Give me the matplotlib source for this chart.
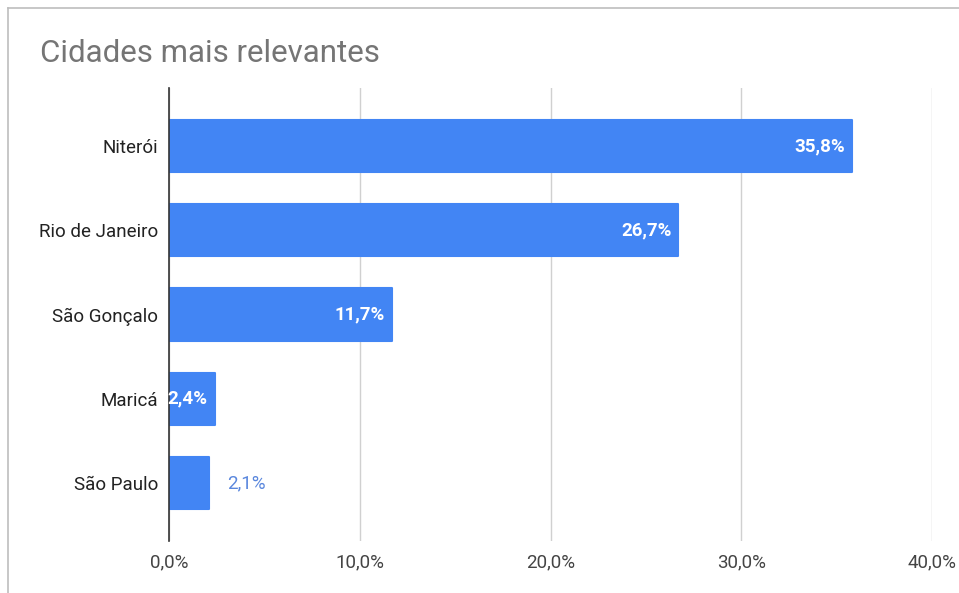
import matplotlib
matplotlib.use("Agg")
import matplotlib.pyplot as plt
from matplotlib.lines import Line2D

plt.rcParams['font.family'] = ['Roboto', 'DejaVu Sans']

cities = ["Niterói", "Rio de Janeiro", "São Gonçalo", "Maricá", "São Paulo"]
shares = [35.8, 26.7, 11.7, 2.4, 2.1]
tick_values = [0, 10, 20, 30, 40]
tick_labels = ["0,0%", "10,0%", "20,0%", "30,0%", "40,0%"]

BLUE = "#4285F4"
FS = 13.5

fig = plt.figure(figsize=(9.59, 5.93), dpi=100)
ax = fig.add_axes([169 / 959, 1 - 541 / 593, (932 - 169) / 959, (541 - 88) / 593])

ypos = list(range(len(cities)))
ax.barh(ypos, shares, height=0.62, color=BLUE, edgecolor=BLUE,
        linewidth=1.5, joinstyle="round", zorder=3)

ax.set_xlim(0, 40)
ax.set_ylim(len(cities) - 0.31, -0.69)
ax.set_xticks(tick_values)
ax.set_xticklabels(tick_labels)
ax.set_yticks(ypos)
ax.set_yticklabels(cities)

ax.tick_params(axis="x", length=0, pad=9, labelsize=FS, labelcolor="#444444")
ax.tick_params(axis="y", length=0, pad=8, labelsize=FS, labelcolor="#222222")
ax.grid(axis="x", color="#d0d0d0", linewidth=1, zorder=0)
for s in ["top", "right", "bottom"]:
    ax.spines[s].set_visible(False)
ax.spines["left"].set_color("#333333")
ax.spines["left"].set_linewidth(1.2)
ax.spines["left"].set_zorder(4)

for y, v in zip(ypos, shares):
    label = f"{v:.1f}%".replace(".", ",")
    if v > 2.2:
        ax.annotate(label, (v, y), xytext=(-5, 0), textcoords="offset points",
                    ha="right", va="center", color="white", fontsize=FS,
                    fontweight="bold", zorder=5)
    else:
        ax.annotate(label, (v, y), xytext=(13, 0), textcoords="offset points",
                    ha="left", va="center", color="#5a87dd", fontsize=FS,
                    zorder=5)

fig.text(40 / 959, 1 - 53 / 593, "Cidades mais relevantes", fontsize=22.5,
         color="#757575", va="center", ha="left")

# light frame around the chart card
fig.add_artist(Line2D([8 / 959, 8 / 959], [0, 1 - 8 / 593], transform=fig.transFigure,
                      color="#bdbdbd", linewidth=1.2))
fig.add_artist(Line2D([8 / 959, 1], [1 - 8 / 593, 1 - 8 / 593], transform=fig.transFigure,
                      color="#bdbdbd", linewidth=1.2))

fig.savefig("out.png", dpi=100, facecolor="white")
